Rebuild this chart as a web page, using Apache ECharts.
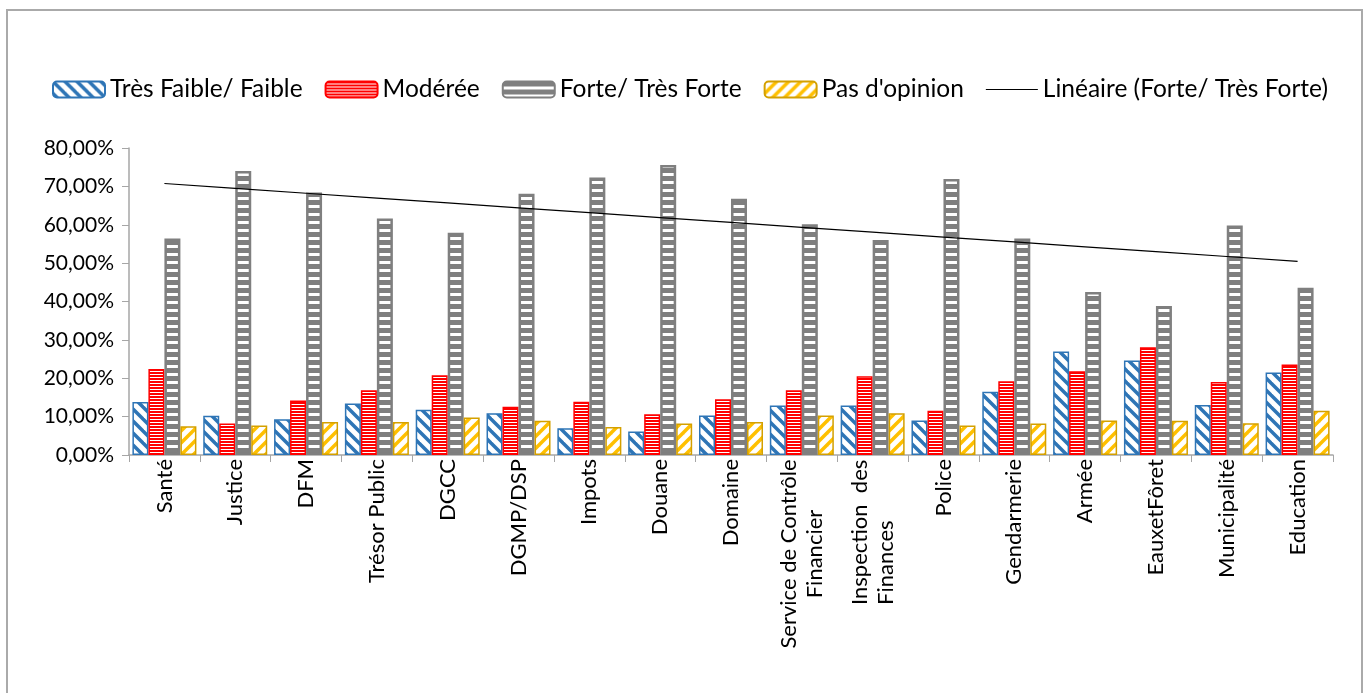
<!DOCTYPE html>
<html>
<head>
<meta charset="utf-8">
<script src="https://cdn.jsdelivr.net/npm/echarts@6/dist/echarts.min.js"></script>
<style>
  html, body { margin: 0; padding: 0; background: #fff; }
  #chart { width: 1367px; height: 693px; }
</style>
</head>
<body>
<div id="chart"></div>
<script>
// Institutions (x categories)
const categories = ['Santé', 'Justice', 'DFM', 'Trésor Public', 'DGCC', 'DGMP/DSP', 'Impots', 'Douane',
  'Domaine', 'Service de Contrôle\nFinancier', 'Inspection  des\nFinances', 'Police', 'Gendarmerie',
  'Armée', 'EauxetFôret', 'Municipalité', 'Education'];

// Shares of answers, in percent
const tresFaible = [13.8, 10.2, 9.3, 13.4, 11.8, 10.9, 7.0, 6.1, 10.3, 12.9, 12.9, 9.0, 16.5, 27.0, 24.6, 13.0, 21.5];
const moderee    = [22.4, 8.2, 14.2, 16.9, 20.8, 12.6, 13.9, 10.6, 14.5, 16.9, 20.5, 11.5, 19.2, 21.8, 28.1, 19.0, 23.6];
const forte      = [56.4, 74.0, 68.4, 61.6, 57.9, 68.1, 72.3, 75.6, 66.8, 60.1, 56.0, 71.9, 56.4, 42.5, 38.8, 59.8, 43.6];
const pasOpinion = [7.5, 7.7, 8.6, 8.6, 9.8, 8.9, 7.3, 8.2, 8.6, 10.3, 10.9, 7.7, 8.2, 9.0, 8.9, 8.3, 11.5];

// Series names (legend)
const seriesNames = ['Très Faible/ Faible', 'Modérée', 'Forte/ Très Forte', "Pas d'opinion", 'Linéaire (Forte/ Très Forte)'];

// Y axis: 0 to 80 % every 10 %
const yMin = 0, yMax = 80, yStep = 10;

// Least-squares linear trend of the "Forte/ Très Forte" series
function linearTrend(vals) {
  const n = vals.length;
  let sx = 0, sy = 0, sxy = 0, sxx = 0;
  vals.forEach((v, i) => { sx += i; sy += v; sxy += i * v; sxx += i * i; });
  const slope = (n * sxy - sx * sy) / (n * sxx - sx * sx);
  const icpt = (sy - slope * sx) / n;
  return vals.map((_, i) => +(icpt + slope * i).toFixed(3));
}
const trend = linearTrend(forte);

// Fill patterns for the bars
function diagPattern(color, forward, size, lw) {
  const c = document.createElement('canvas');
  c.width = size; c.height = size;
  const g = c.getContext('2d');
  g.fillStyle = '#fff'; g.fillRect(0, 0, size, size);
  g.strokeStyle = color; g.lineWidth = lw; g.lineCap = 'square';
  for (let k = -1; k <= 1; k++) {
    g.beginPath();
    if (forward) { g.moveTo(k * size, size); g.lineTo(k * size + size, 0); }
    else { g.moveTo(k * size, 0); g.lineTo(k * size + size, size); }
    g.stroke();
  }
  return { image: c, repeat: 'repeat' };
}
function hPattern(color, period, band) {
  const c = document.createElement('canvas');
  c.width = 4; c.height = period;
  const g = c.getContext('2d');
  g.fillStyle = '#fff'; g.fillRect(0, 0, 4, period);
  g.fillStyle = color; g.fillRect(0, 0, 4, band);
  return { image: c, repeat: 'repeat' };
}

const BLUE = '#2E75B6', RED = '#FF0000', GRAY = '#7F7F7F', GOLD = '#FFC000', GOLD_EDGE = '#D4A000';
const FONT = 'Lato, "Liberation Sans", sans-serif';
const XFS = 22;

// Wrapped category labels: each line is a box as wide as the longest line,
// the second line centred ('center') or starting with the first ('left')
const mctx = document.createElement('canvas').getContext('2d');
mctx.font = XFS + 'px ' + FONT;
const wrapAlign = { 9: 'center', 10: 'left' };
const rich = {};
categories.forEach((v, i) => {
  const lines = v.split('\n');
  if (lines.length > 1) {
    const w = Math.ceil(Math.max(...lines.map(l => mctx.measureText(l).width)));
    rich['w' + i] = { fontSize: XFS, color: '#000', fontFamily: FONT, width: w, lineHeight: 26, align: wrapAlign[i] || 'center' };
  }
});

const chart = echarts.init(document.getElementById('chart'), null, { renderer: 'canvas' });

function barSeries(name, data, color, edge, bw) {
  return {
    name, type: 'bar', data,
    barWidth: 16, barGap: '0%',
    itemStyle: { color, borderColor: edge, borderWidth: bw },
    emphasis: { disabled: true }
  };
}

chart.setOption({
  animation: false,
  textStyle: { fontFamily: FONT },
  graphic: [{
    type: 'rect', shape: { x: 7, y: 10, width: 1355, height: 700 },
    style: { fill: 'none', stroke: '#AAAAAA', lineWidth: 2 }, silent: true, z: -10
  }],
  legend: {
    left: 47, top: 72,
    itemWidth: 52, itemHeight: 16, itemGap: 22,
    textStyle: { fontSize: 24.5, color: '#000', fontFamily: FONT },
    data: [
      seriesNames[0], seriesNames[1], seriesNames[2], seriesNames[3],
      { name: seriesNames[4], icon: 'path://M0 0H50V1H0Z' }
    ]
  },
  grid: { left: 129, right: 34, top: 148, bottom: 238, containLabel: false },
  xAxis: {
    type: 'category', data: categories,
    axisLine: { lineStyle: { color: '#A6A6A6', width: 1.5 } },
    axisTick: { show: true, length: 7, lineStyle: { color: '#A6A6A6' } },
    axisLabel: {
      rotate: 90, margin: 4, color: '#000', fontSize: XFS, fontFamily: FONT, interval: 0, lineHeight: 26,
      formatter: function (v, i) {
        const lines = v.split('\n');
        if (lines.length === 1) return v;
        return lines.map(l => '{w' + i + '|' + l + '}').join('\n');
      },
      rich
    }
  },
  yAxis: {
    type: 'value', min: yMin, max: yMax, interval: yStep,
    splitLine: { show: false },
    axisLine: { show: true, lineStyle: { color: '#A6A6A6', width: 1.5 } },
    axisTick: { show: true, inside: false, length: 7, lineStyle: { color: '#A6A6A6' } },
    axisLabel: {
      margin: 15, color: '#000', fontSize: 21, fontFamily: FONT,
      formatter: v => v.toFixed(2).replace('.', ',') + '%'
    }
  },
  series: [
    barSeries(seriesNames[0], tresFaible, diagPattern(BLUE, false, 12, 3.5), BLUE, 1.5),
    barSeries(seriesNames[1], moderee, hPattern(RED, 3, 2), RED, 1.5),
    barSeries(seriesNames[2], forte, hPattern(GRAY, 8, 5), GRAY, 2.5),
    barSeries(seriesNames[3], pasOpinion, diagPattern(GOLD, true, 12, 3.5), GOLD_EDGE, 1.5),
    {
      name: seriesNames[4], type: 'line', data: trend,
      symbol: 'none', smooth: false,
      lineStyle: { color: '#000', width: 1.2 },
      itemStyle: { color: '#000' },
      emphasis: { disabled: true }, z: 5
    }
  ]
});
</script>
</body>
</html>
